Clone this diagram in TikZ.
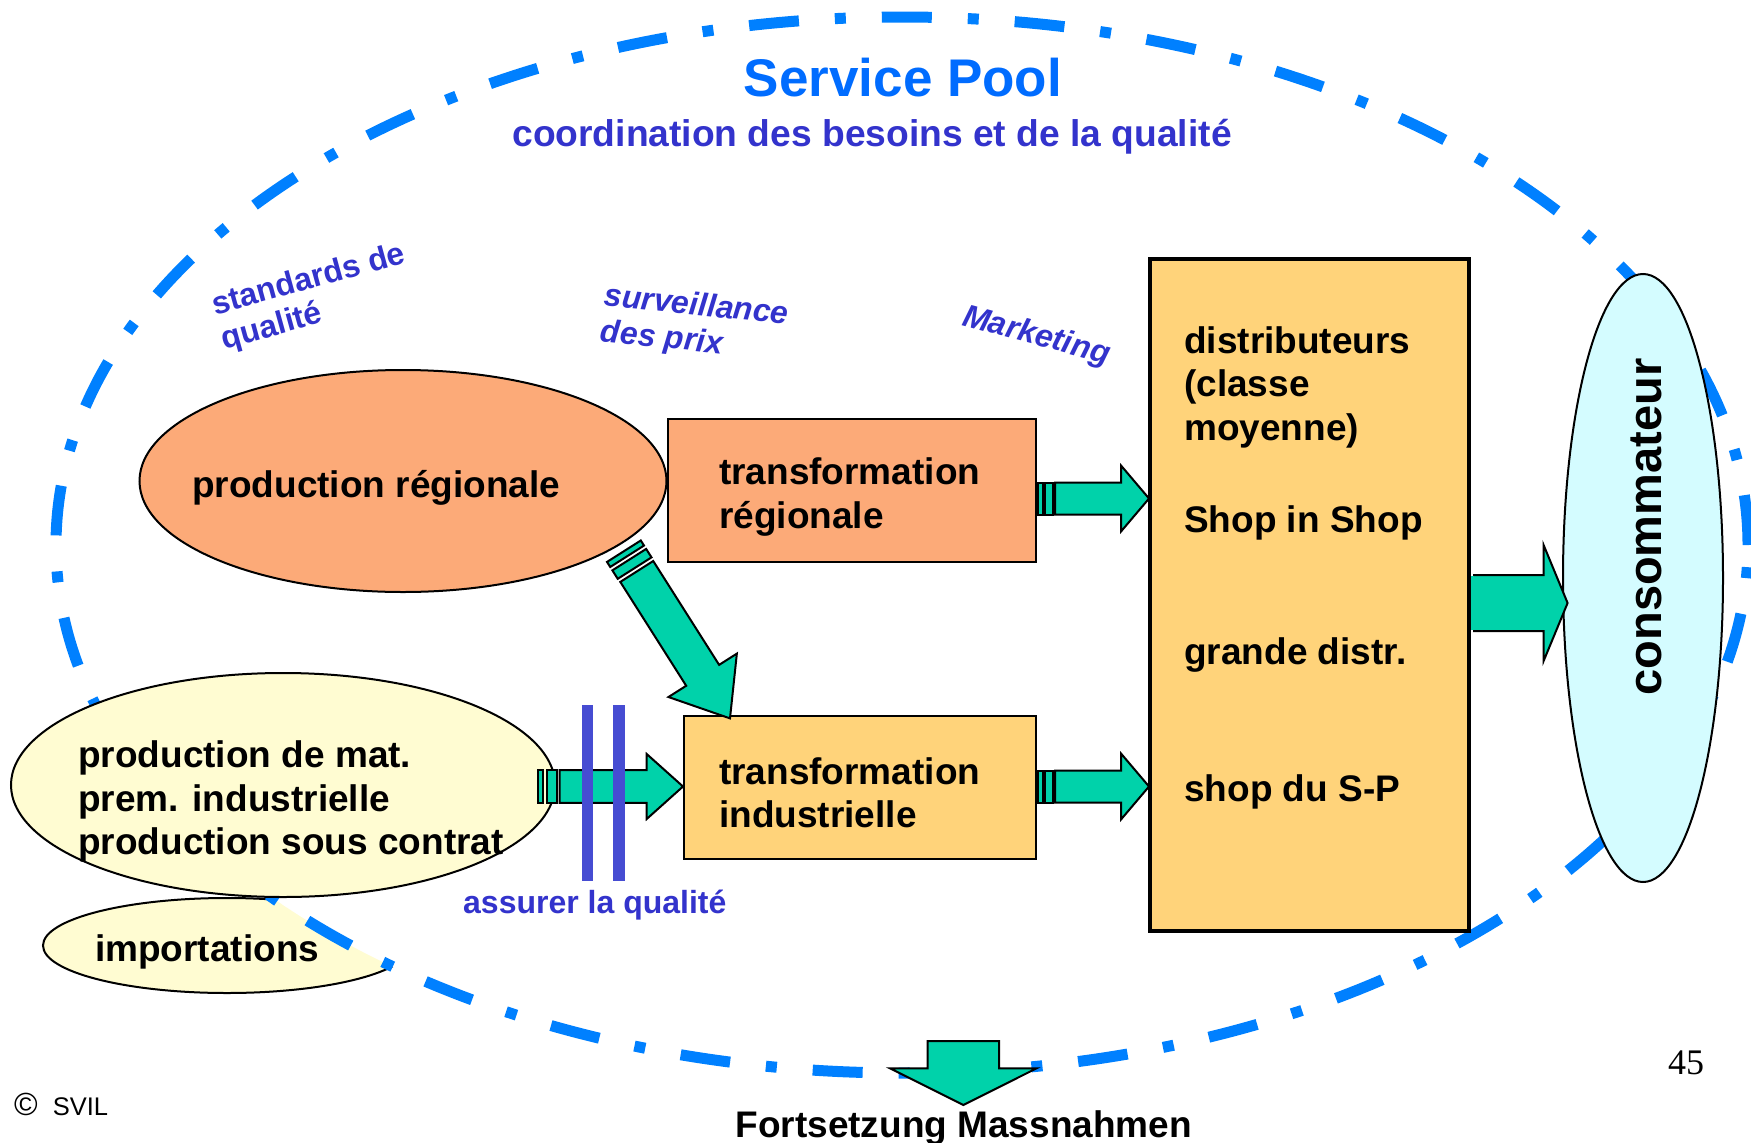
\documentclass[tikz,border=0pt]{standalone}
\usepackage{fontspec}
\setmainfont{Liberation Sans}
\newfontfamily\numfont{Liberation Serif}
\usetikzlibrary{calc,shapes.geometric}
\definecolor{dashblue}{RGB}{0,128,255}
\definecolor{titleblue}{RGB}{0,108,255}
\definecolor{myindigo}{RGB}{51,51,204}
\definecolor{barblue}{RGB}{70,76,210}
\definecolor{mysalmon}{RGB}{252,170,120}
\definecolor{myorange}{RGB}{255,211,122}
\definecolor{myyellow}{RGB}{255,252,210}
\definecolor{mycyan}{RGB}{212,252,255}
\definecolor{mygreen}{RGB}{0,210,170}
\begin{document}
\begin{tikzpicture}[x=1pt,y=-1pt,
  shapeline/.style={draw=black,line width=2},
  oval/.style={ellipse,shapeline,inner sep=0},
  boxshape/.style={rectangle,shapeline,inner sep=0,anchor=north west},
  blk/.style={fill=mygreen,draw=black,line width=2,line join=miter},
  maintxt/.style={font=\fontsize{37}{43.5}\selectfont\bfseries,inner sep=0,align=left,anchor=base west},
  bluetxt/.style={font=\fontsize{32}{35.5}\selectfont\bfseries,text=myindigo,inner sep=0,align=left,anchor=base west},
  bluetxtit/.style={bluetxt,font=\fontsize{32}{36}\selectfont\bfseries\itshape}]
\useasboundingbox (0,0) rectangle (1751,1143);

% importations (behind the pool ellipse)
\node[oval,fill=myyellow,minimum width=368,minimum height=95] (imp) at (227,945.5) {};

% service pool boundary
\node[ellipse,draw=dashblue,fill=white,line width=11,dash pattern=on 50 off 36 on 11 off 36,
      minimum width=1692,minimum height=1056,inner sep=0] (pool) at (902,545) {};

% shapes
\node[oval,fill=mysalmon,minimum width=527,minimum height=222] (preg) at (403,481) {};
\node[boxshape,fill=mysalmon,minimum width=368,minimum height=143] (treg) at (667,418) {};
\node[boxshape,fill=myorange,minimum width=352,minimum height=143] (tind) at (683,715) {};
\node[boxshape,fill=myorange,minimum width=319,minimum height=672,line width=4] (dbox) at (1148,257) {};
\node[oval,fill=mycyan,minimum width=160,minimum height=608] (cons) at (1643,578) {};
\node[oval,fill=myyellow,minimum width=544,minimum height=224] (pmat) at (283,785) {};

% arrow transformation regionale -> distributeurs
\begin{scope}[shift={($(treg.east)+(0,8)$)}]
  \filldraw[blk] (1,-16) rectangle (6,16);
  \filldraw[blk] (8,-16) rectangle (16,16);
  \filldraw[blk] (18,-16) -- (84,-16) -- (84,-33) -- (112,0) -- (84,33) -- (84,16) -- (18,16) -- cycle;
\end{scope}
% arrow transformation industrielle -> distributeurs
\begin{scope}[shift={($(tind.east)+(0,-1)$)}]
  \filldraw[blk] (1,-16) rectangle (6,16);
  \filldraw[blk] (8,-16) rectangle (16,16);
  \filldraw[blk] (18,-16) -- (84,-16) -- (84,-33) -- (112,0) -- (84,33) -- (84,16) -- (18,16) -- cycle;
\end{scope}
% arrow production de mat -> transformation industrielle
\begin{scope}[shift={($(tind.west)+(-145,-1)$)}]
  \filldraw[blk] (0,-16.3) rectangle (5,16.3);
  \filldraw[blk] (8.7,-16.3) rectangle (18.7,16.3);
  \filldraw[blk] (21.7,-16.3) -- (108.7,-16.3) -- (108.7,-32.5) -- (145,0) -- (108.7,32.5) -- (108.7,16.3) -- (21.7,16.3) -- cycle;
\end{scope}
% blue quality bars
\fill[barblue] (581.7,705) rectangle (593.3,881);
\fill[barblue] (613,705) rectangle (625.3,881);
% arrow distributeurs -> consommateur
\begin{scope}[shift={($(dbox.east)+(0,8)$)}]
  \filldraw[blk] (2,-28) -- (72.6,-28) -- (72.6,-58) -- (96.6,0) -- (72.6,58) -- (72.6,28) -- (2,28);
  \fill[mygreen] (0,-27) rectangle (3,27);
\end{scope}
% diagonal arrow production regionale -> transformation industrielle
\coordinate (dstart) at (623.9,551.2);
\begin{scope}[shift={(dstart)},rotate=-57.6]
  \filldraw[blk] (0,-20) rectangle (6,20);
  \filldraw[blk] (10,-20) rectangle (20,20);
  \filldraw[blk] (24,-19.5) -- (147,-19.5) -- (147,-40.5) -- (198,0) -- (147,40.5) -- (147,19.5) -- (24,19.5) -- cycle;
\end{scope}
% bottom arrow
\coordinate (fstart) at (963.3,1041);
\begin{scope}[shift={(fstart)},rotate=-90]
  \filldraw[blk] (0,-35.7) -- (27.3,-35.7) -- (27.3,-73.3) -- (64,0) -- (27.3,73.3) -- (27.3,35.7) -- (0,35.7) -- cycle;
\end{scope}

% titles
\node[font=\fontsize{53}{60}\selectfont\bfseries,text=titleblue,inner sep=0,anchor=base] (title) at (903,96) {Service Pool};
\node[font=\fontsize{37.2}{43}\selectfont\bfseries,text=myindigo,inner sep=0,anchor=base] (subtitle) at (872,146) {coordination des besoins et de la qualité};

% blue labels (anchor = baseline of the last line)
\node[bluetxt,rotate=15.4] (std) at (224.4,349.5) {standards de\\qualité};
\node[bluetxtit,rotate=-5.8] (surv) at (599.7,341.5) {surveillance\\des prix};
\node[bluetxtit,rotate=-15] (mkt) at (961,325) {Marketing};
\node[bluetxt] (assur) at (463,913) {assurer la qualité};

% main texts (anchor = baseline of the last line)
\node[maintxt] (pregT) at (192,497) {production régionale};
\node[maintxt] (tregT) at (719,528) {transformation\\régionale};
\node[maintxt] (tindT) at (719,827.5) {transformation\\industrielle};
\node[maintxt] (dboxT) at (1184,801) {distributeurs\\(classe\\moyenne)\\[49pt]Shop in Shop\\[88.7pt]grande distr.\\[92.8pt]shop du S-P};
\node[maintxt] (pmatT) at (78,854.5) {production de mat.\\prem. industrielle\\production sous contrat};
\node[maintxt] (impT) at (95,961.5) {importations};
\node[font=\fontsize{47}{50}\selectfont\bfseries,inner sep=0,rotate=90] (consT) at (1646,527) {consommateur};
\node[font=\fontsize{37}{43}\selectfont\bfseries,inner sep=0,anchor=base] (fort) at (963.7,1137) {Fortsetzung Massnahmen};

% footer
\node[font=\numfont\fontsize{36}{40}\selectfont,inner sep=0,anchor=base] (pagenum) at (1686,1074) {45};
\node[font=\fontsize{25.5}{30}\selectfont,inner sep=0,anchor=base west] (copy) at (14,1115) {{\fontsize{32}{32}\selectfont ©}\hspace{15pt}SVIL};
\end{tikzpicture}
\end{document}
